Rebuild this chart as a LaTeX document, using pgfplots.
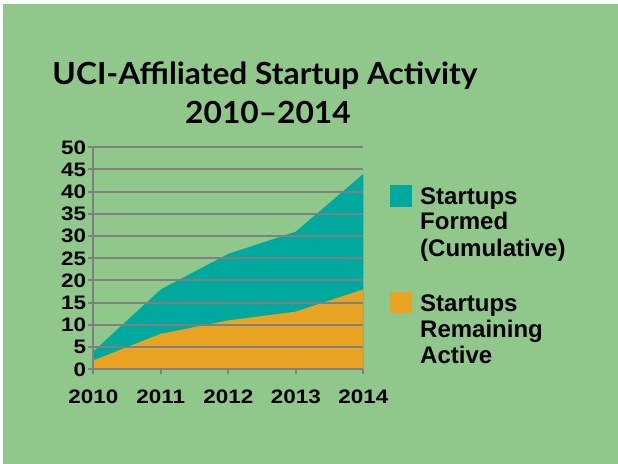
\documentclass[border=0pt]{standalone}
\usepackage{pgfplots}
\pgfplotsset{compat=1.18}
\usepackage{fontspec}
\setmainfont{Liberation Sans}
\newfontfamily\titlefont{Lato}[FakeStretch=1.04]
\newfontfamily\tickfont{Liberation Sans}[FakeStretch=1.15]

\definecolor{bggreen}{RGB}{143,200,138}
\definecolor{teal1}{RGB}{0,169,157}
\definecolor{orange1}{RGB}{233,163,35}
\definecolor{grid1}{RGB}{128,128,128}

\pgfplotstableread{
year formed active
2010 4  2
2011 18 8
2012 26 11
2013 31 13
2014 44 18
}\startups

\begin{document}
\begin{tikzpicture}[x=1bp,y=1bp]
\fill[white] (0,0) rectangle (618,464);
\fill[bggreen] (3,0) rectangle (618,460);

\node[anchor=base,font=\titlefont\bfseries\fontsize{30.5bp}{30.5bp}\selectfont] at (265,379) {UCI-Affiliated Startup Activity};
\node[anchor=base,font=\titlefont\bfseries\fontsize{30.5bp}{30.5bp}\selectfont] at (268,340) {2010–2014};

\begin{axis}[
  at={(93.3bp,94.7bp)}, anchor=south west,
  scale only axis, width=270bp, height=222bp,
  xmin=2010, xmax=2014, ymin=0, ymax=50,
  xtick={2010,2011,2012,2013,2014},
  xticklabels={2010,2011,2012,2013,2014},
  ytick={0,5,...,50},
  axis lines=left,
  axis line style={-, draw=grid1, line width=2bp},
  tick align=outside,
  major tick length=5bp,
  tick style={draw=grid1, line width=2bp},
  ymajorgrids,
  major grid style={draw=grid1, line width=2bp},
  ticklabel style={font=\tickfont\bfseries\fontsize{19.5bp}{19.5bp}\selectfont, inner sep=1bp},
  xticklabel style={yshift=-14bp},
  yticklabel style={xshift=-1bp},
  /pgf/number format/assume math mode=true,
  axis on top,
]
\addplot[fill=teal1, draw=none] table[x=year,y=formed] {\startups} \closedcycle;
\addplot[fill=orange1, draw=none] table[x=year,y=active] {\startups} \closedcycle;
\end{axis}

\fill[teal1] (390,257) rectangle (412,279);
\fill[orange1] (390,151) rectangle (412,172);
\begin{scope}[every node/.style={anchor=base west, inner sep=0pt, font=\bfseries\fontsize{24bp}{24bp}\selectfont}]
\node at (420,259) {Startups};
\node at (420,234) {Formed};
\node at (420,207) {(Cumulative)};
\node at (420,152.3) {Startups};
\node at (420,126) {Remaining};
\node at (420,100) {Active};
\end{scope}
\end{tikzpicture}
\end{document}
